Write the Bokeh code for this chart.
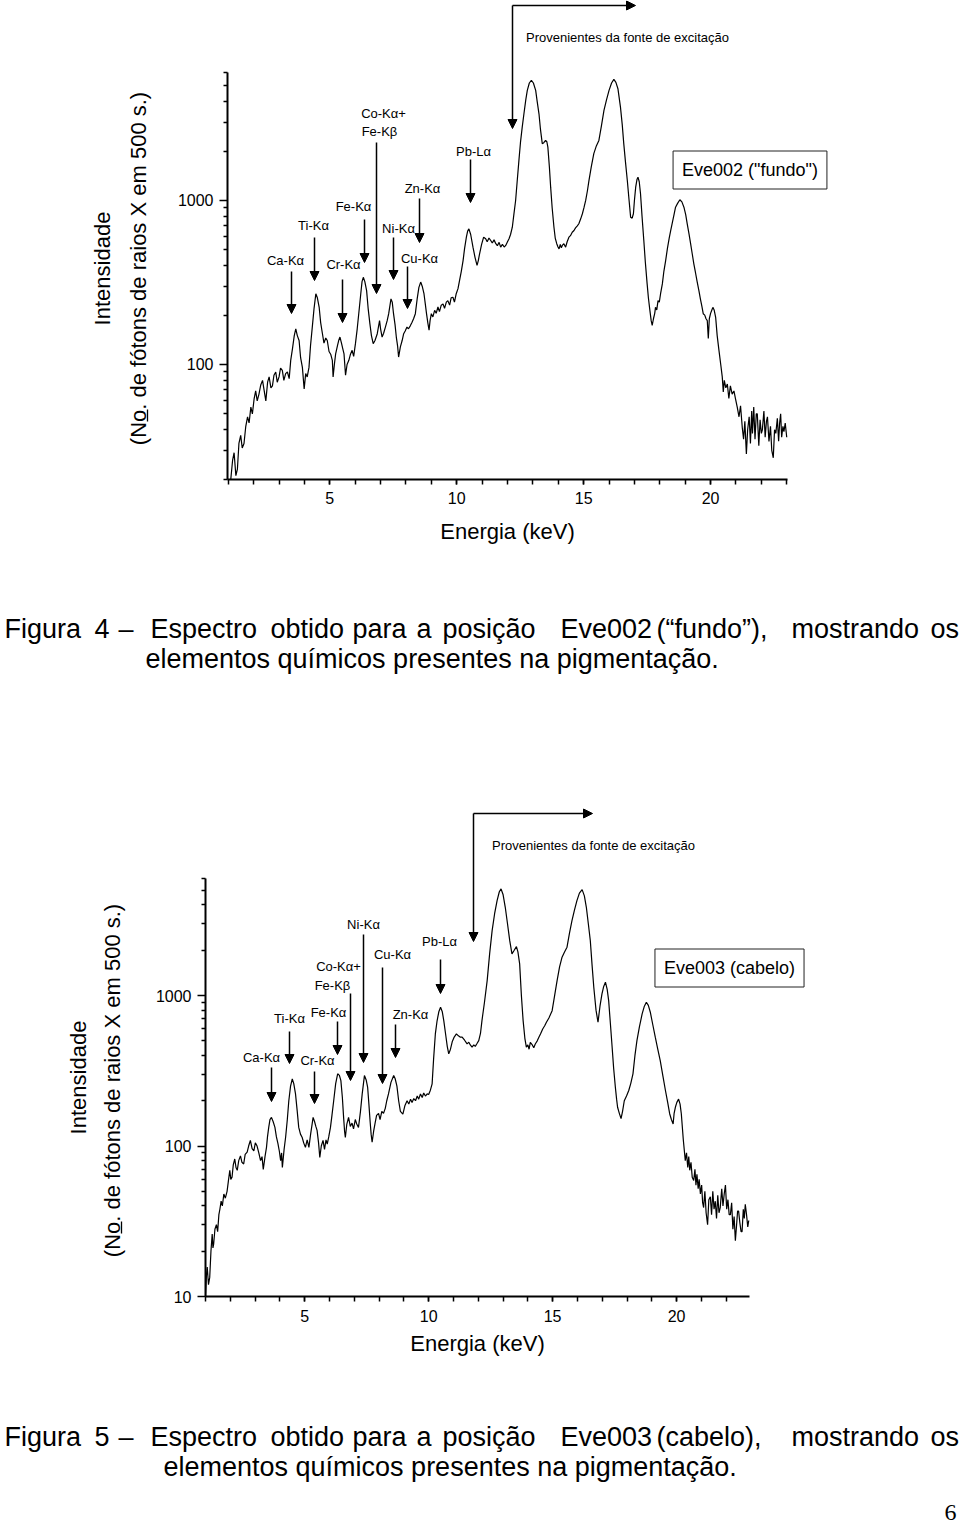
import math
from bokeh.plotting import figure
from bokeh.layouts import column
from bokeh.models import (FixedTicker, NumeralTickFormatter, Label, Arrow,
                          NormalHead, Range1d, LinearAxis, LogAxis, LogScale)
from bokeh.embed import file_html
from bokeh.resources import INLINE

# ---------------- data ----------------
energy_fundo = [
    1.10, 1.17, 1.23, 1.30, 1.36, 1.42, 1.49, 1.55, 1.62, 1.69, 1.76, 1.82, 1.89, 1.95, 2.02, 2.08,
    2.14, 2.21, 2.28, 2.35, 2.41, 2.48, 2.55, 2.61, 2.68, 2.74, 2.80, 2.87, 2.93, 3.00, 3.06, 3.13,
    3.19, 3.26, 3.33, 3.40, 3.46, 3.53, 3.60, 3.66, 3.72, 3.79, 3.85, 3.92, 3.99, 4.05, 4.11, 4.18,
    4.24, 4.31, 4.38, 4.45, 4.51, 4.58, 4.64, 4.71, 4.77, 4.84, 4.90, 4.97, 5.04, 5.10, 5.13, 5.18,
    5.23, 5.30, 5.35, 5.40, 5.46, 5.51, 5.56, 5.62, 5.68, 5.75, 5.81, 5.88, 5.94, 6.01, 6.08, 6.14,
    6.22, 6.27, 6.32, 6.38, 6.45, 6.51, 6.58, 6.64, 6.71, 6.78, 6.87, 6.96, 7.00, 7.06, 7.12, 7.19,
    7.26, 7.32, 7.41, 7.46, 7.51, 7.57, 7.62, 7.67, 7.71, 7.78, 7.85, 7.91, 7.97, 8.04, 8.10, 8.17,
    8.24, 8.30, 8.37, 8.44, 8.51, 8.58, 8.64, 8.71, 8.76, 8.81, 8.86, 8.91, 8.95, 9.00, 9.06, 9.13,
    9.19, 9.26, 9.32, 9.39, 9.46, 9.52, 9.59, 9.65, 9.72, 9.78, 9.85, 9.91, 9.98, 10.05, 10.11, 10.18,
    10.25, 10.31, 10.38, 10.43, 10.48, 10.55, 10.64, 10.72, 10.80, 10.85, 10.90, 10.98, 11.06, 11.14,
    11.20, 11.27, 11.34, 11.40, 11.47, 11.54, 11.60, 11.67, 11.73, 11.80, 11.87, 11.93, 12.00, 12.06,
    12.12, 12.19, 12.25, 12.32, 12.38, 12.45, 12.51, 12.58, 12.65, 12.72, 12.78, 12.86, 12.94, 13.02,
    13.11, 13.17, 13.24, 13.30, 13.37, 13.43, 13.50, 13.55, 13.59, 13.65, 13.70, 13.76, 13.83, 13.88,
    13.94, 13.99, 14.03, 14.08, 14.12, 14.16, 14.22, 14.29, 14.35, 14.42, 14.48, 14.55, 14.62, 14.68,
    14.75, 14.81, 14.88, 14.95, 15.01, 15.08, 15.15, 15.21, 15.30, 15.40, 15.50, 15.60, 15.70, 15.80,
    15.90, 16.00, 16.10, 16.19, 16.27, 16.35, 16.45, 16.52, 16.58, 16.65, 16.72, 16.79, 16.85, 16.91,
    16.96, 17.00, 17.05, 17.10, 17.14, 17.19, 17.24, 17.30, 17.37, 17.43, 17.50, 17.55, 17.61, 17.66,
    17.70, 17.75, 17.80, 17.83, 17.88, 17.93, 17.98, 18.03, 18.10, 18.16, 18.23, 18.30, 18.37, 18.43,
    18.50, 18.56, 18.62, 18.70, 18.79, 18.87, 18.95, 19.02, 19.08, 19.15, 19.21, 19.28, 19.34, 19.41,
    19.47, 19.54, 19.60, 19.66, 19.71, 19.77, 19.82, 19.87, 19.91, 19.95, 20.00, 20.05, 20.09, 20.14,
    20.20, 20.26, 20.33, 20.40, 20.46, 20.50, 20.54, 20.60, 20.66, 20.72, 20.78, 20.85, 20.92, 20.98,
    21.05, 21.12, 21.18, 21.25, 21.30, 21.35, 21.41, 21.46, 21.52, 21.57, 21.62, 21.65, 21.70, 21.75,
    21.80, 21.84, 21.90, 21.95, 22.00, 22.04, 22.10, 22.15, 22.20, 22.24, 22.30, 22.36, 22.41, 22.47,
    22.52, 22.57, 22.63, 22.68, 22.72, 22.76, 22.80, 22.85, 22.89, 22.94, 23.00]
counts_fundo = [
    20, 26, 29, 21, 23, 33, 37, 31, 33, 42, 48, 44, 55, 50, 62, 69,
    60, 66, 75, 80, 70, 60, 78, 84, 72, 74, 86, 90, 78, 84, 95, 92,
    80, 88, 90, 82, 106, 125, 150, 165, 150, 140, 110, 96, 71, 88, 84, 96,
    130, 169, 220, 270, 255, 224, 180, 154, 135, 145, 140, 120, 115, 106, 84, 100,
    116, 130, 140, 147, 135, 125, 116, 86, 100, 106, 115, 122, 112, 134, 165, 204,
    270, 320, 340, 320, 282, 220, 177, 150, 134, 140, 154, 185, 165, 147, 155, 169,
    185, 204, 251, 240, 204, 175, 147, 130, 111, 128, 140, 154, 160, 169, 165, 172,
    181, 190, 204, 250, 295, 318, 300, 270, 235, 204, 180, 162, 185, 204, 195, 214,
    205, 224, 210, 230, 234, 220, 240, 245, 230, 255, 257, 240, 270, 290, 325, 370,
    430, 510, 597, 650, 671, 620, 519, 450, 402, 430, 473, 540, 597, 584,
    560, 590, 570, 550, 575, 545, 530, 555, 519, 540, 520, 532, 560, 584,
    620, 687, 820, 1000, 1300, 1754, 2250, 2800, 3400, 4100, 4690, 5200, 5400, 5200,
    4690, 4000, 3375, 2700, 2220, 2250, 2323, 2280, 2115, 1600, 1205, 900, 687, 590,
    545, 520, 507, 540, 515, 532, 545, 519, 560, 597, 610, 640, 656, 680,
    700, 721, 770, 830, 900, 1000, 1150, 1324, 1600, 1928, 2150, 2323, 2850, 3540,
    4100, 4690, 5200, 5470, 5250, 4800, 3707, 2900, 2220, 1700, 1324, 1000, 791, 780,
    830, 1000, 1205, 1340, 1387, 1300, 1099, 800, 570, 420, 311, 255, 213, 185,
    173, 190, 205, 223, 215, 245, 240, 270, 310, 370, 430, 510, 590, 656,
    740, 820, 910, 960, 1010, 980, 910, 820, 720, 626, 550, 470, 411, 360,
    320, 282, 250, 225, 204, 200, 190, 185, 144, 190, 205, 215, 223, 215,
    194, 150, 122, 100, 84, 68, 80, 72, 76, 62, 74, 66, 69, 62,
    55, 48, 56, 41, 35, 45, 28.5, 40, 48, 33, 52, 38, 55, 35,
    50, 50, 32, 46, 38, 40, 52, 36, 45, 48, 34, 42, 30, 27,
    40, 38, 47, 34, 44, 50, 36, 42, 39, 44, 36]

energy_cabelo = [
    1.00, 1.04, 1.07, 1.12, 1.17, 1.22, 1.27, 1.30, 1.33, 1.38, 1.44, 1.49, 1.54, 1.58, 1.63, 1.68,
    1.74, 1.80, 1.87, 1.92, 1.98, 2.02, 2.07, 2.12, 2.18, 2.23, 2.28, 2.34, 2.41, 2.47, 2.54, 2.60,
    2.68, 2.74, 2.81, 2.88, 2.95, 3.01, 3.08, 3.15, 3.22, 3.28, 3.33, 3.40, 3.46, 3.50, 3.55, 3.60,
    3.66, 3.73, 3.80, 3.86, 3.92, 3.98, 4.03, 4.07, 4.10, 4.17, 4.23, 4.30, 4.36, 4.43, 4.50, 4.56,
    4.63, 4.70, 4.76, 4.83, 4.90, 4.96, 5.03, 5.10, 5.17, 5.24, 5.30, 5.34, 5.40, 5.45, 5.50, 5.56,
    5.61, 5.67, 5.74, 5.80, 5.86, 5.91, 5.97, 6.04, 6.10, 6.17, 6.25, 6.33, 6.40, 6.46, 6.52, 6.57,
    6.61, 6.64, 6.70, 6.77, 6.84, 6.91, 6.97, 7.04, 7.10, 7.17, 7.25, 7.32, 7.41, 7.48, 7.54, 7.59,
    7.64, 7.68, 7.72, 7.78, 7.84, 7.90, 7.98, 8.04, 8.11, 8.18, 8.25, 8.31, 8.38, 8.48, 8.59, 8.65,
    8.72, 8.79, 8.86, 8.96, 9.04, 9.13, 9.20, 9.27, 9.33, 9.40, 9.47, 9.54, 9.60, 9.67, 9.74, 9.80,
    9.87, 9.94, 10.00, 10.07, 10.14, 10.20, 10.27, 10.34, 10.41, 10.48, 10.55, 10.61, 10.68, 10.75,
    10.81, 10.88, 10.95, 11.03, 11.12, 11.20, 11.28, 11.35, 11.45, 11.55, 11.62, 11.68, 11.75, 11.82,
    11.88, 11.95, 12.02, 12.09, 12.15, 12.25, 12.36, 12.46, 12.56, 12.66, 12.76, 12.85, 12.92, 13.00,
    13.09, 13.18, 13.27, 13.36, 13.45, 13.54, 13.60, 13.67, 13.74, 13.81, 13.88, 13.94, 14.00, 14.05,
    14.10, 14.18, 14.24, 14.30, 14.38, 14.45, 14.51, 14.60, 14.68, 14.75, 14.85, 14.98, 15.08, 15.18,
    15.28, 15.38, 15.48, 15.58, 15.68, 15.78, 15.88, 15.98, 16.08, 16.19, 16.28, 16.36, 16.44, 16.52,
    16.59, 16.66, 16.75, 16.83, 16.91, 16.99, 17.06, 17.13, 17.20, 17.26, 17.33, 17.40, 17.46, 17.53,
    17.58, 17.62, 17.69, 17.76, 17.82, 17.89, 17.98, 18.07, 18.15, 18.24, 18.32, 18.40, 18.50, 18.61,
    18.70, 18.78, 18.86, 18.94, 19.04, 19.14, 19.24, 19.34, 19.45, 19.55, 19.64, 19.72, 19.79, 19.86,
    19.90, 19.95, 20.01, 20.08, 20.14, 20.19, 20.27, 20.35, 20.40, 20.45, 20.49, 20.53, 20.58, 20.63,
    20.69, 20.74, 20.78, 20.82, 20.87, 20.91, 20.96, 21.01, 21.05, 21.09, 21.14, 21.19, 21.25, 21.30,
    21.36, 21.41, 21.46, 21.51, 21.56, 21.61, 21.66, 21.71, 21.76, 21.82, 21.87, 21.92, 21.97, 22.02,
    22.07, 22.12, 22.17, 22.22, 22.27, 22.32, 22.37, 22.42, 22.46, 22.50, 22.55, 22.60, 22.64, 22.69,
    22.73, 22.77, 22.82, 22.87, 22.91]
counts_cabelo = [
    10, 14, 15.7, 12, 13.4, 20, 26, 21, 22.4, 28, 30, 27, 35, 38, 43, 40,
    48, 45, 50, 58, 69, 60, 62, 75, 82, 72, 69, 80, 86, 78, 76, 88,
    91, 100, 109, 96, 93, 105, 100, 90, 80, 85, 70, 85, 98, 115, 133, 150,
    155, 145, 133, 115, 104, 92, 80, 90, 72, 95, 114, 150, 200, 250, 279, 260,
    222, 170, 133, 120, 114, 105, 98, 110, 98, 120, 140, 155, 145, 135, 127, 105,
    84, 100, 109, 95, 110, 103, 115, 133, 160, 200, 260, 302, 295, 272, 210, 155,
    125, 114, 140, 155, 135, 142, 130, 150, 140, 133, 170, 222, 294, 275, 245, 190,
    145, 120, 106, 125, 142, 160, 165, 150, 170, 165, 178, 200, 222, 265, 294, 280,
    250, 200, 170, 163, 185, 200, 190, 205, 195, 207, 200, 215, 205, 222, 210, 225,
    215, 222, 220, 235, 259, 380, 556, 680, 780, 836, 780, 682, 560, 460,
    410, 440, 493, 530, 556, 540, 529, 530, 505, 477, 490, 470, 454, 470,
    460, 480, 502, 560, 682, 900, 1258, 1900, 2704, 3500, 4276, 4900, 5115, 4700,
    3862, 3000, 2316, 1892, 2000, 2117, 1950, 1625, 1000, 682, 520, 454, 470, 440,
    488, 470, 450, 477, 500, 530, 556, 600, 630, 665, 710, 794, 1000, 1258,
    1550, 1800, 1950, 2096, 2600, 3148, 3700, 4276, 4800, 5060, 4600, 3862, 3000, 2316,
    1600, 1135, 800, 665, 850, 1026, 1150, 1227, 1100, 926, 650, 454, 330, 246,
    205, 181, 165, 152, 170, 200, 215, 234, 260, 302, 400, 502, 620, 755,
    850, 903, 860, 775, 640, 529, 440, 370, 290, 234, 195, 164, 150, 140,
    165, 181, 195, 205, 190, 164, 110, 80, 90, 72, 85, 69, 78, 62,
    59, 70, 55, 65, 52, 60, 48, 55, 42, 39, 50, 36, 30, 44,
    46, 35, 50, 38, 43, 33, 47, 36, 39, 52, 40, 48, 55, 38,
    44, 35, 35, 42, 28, 34, 23.5, 30, 37, 37, 31, 27, 27, 38,
    33, 41, 35, 29, 32]

x_major_ticks = [5, 10, 15, 20]
x_minor_ticks = list(range(1, 24))
y_major_ticks = [10, 100, 1000]
y_minor_ticks = [m * 10 ** k for k in (1, 2, 3) for m in range(2, 10)]
peak_names_fundo = ["Co-K\u03b1+", "Fe-K\u03b2", "Pb-L\u03b1", "Zn-K\u03b1", "Fe-K\u03b1",
                    "Ti-K\u03b1", "Ni-K\u03b1", "Ca-K\u03b1", "Cr-K\u03b1", "Cu-K\u03b1"]
peak_names_cabelo = ["Ni-K\u03b1", "Pb-L\u03b1", "Cu-K\u03b1", "Co-K\u03b1+", "Fe-K\u03b2",
                     "Fe-K\u03b1", "Ti-K\u03b1", "Zn-K\u03b1", "Ca-K\u03b1", "Cr-K\u03b1"]

FONT = "Liberation Sans"
CAP = 27


def make_conv(L, R, T, B, xlo, xhi, ylo, yhi):
    lylo, lyhi = math.log10(ylo), math.log10(yhi)

    def conv(X, Y):
        x = xlo + (X - L) * (xhi - xlo) / (R - L)
        ly = lylo + (B - Y) * (lyhi - lylo) / (B - T)
        return x, 10 ** ly
    return conv


def within(ticks, lo, hi):
    return [t for t in ticks if lo - 1e-9 <= t <= hi + 1e-9]


def make_panel(height, offset, L, R, T, B, xr, yr, xlab_standoff):
    conv = make_conv(L, R, T, B, xr[0], xr[1], yr[0], yr[1])
    x_left, y_bot = conv(0, offset + height)
    x_right, y_top = conv(960, offset)
    p = figure(width=960, height=height, x_range=Range1d(x_left, x_right),
               y_range=Range1d(y_bot, y_top), y_axis_type="log",
               x_axis_location=None, y_axis_location=None,
               output_backend="svg", toolbar_location=None,
               min_border=0, min_border_left=0, min_border_right=0,
               min_border_top=0, min_border_bottom=0)
    p.y_scale = LogScale()
    p.outline_line_color = None
    p.background_fill_color = "white"
    p.border_fill_color = "white"
    p.grid.visible = False

    ax = LinearAxis(fixed_location=yr[0], bounds=(xr[0], xr[1]),
                    ticker=FixedTicker(ticks=within(x_major_ticks, *xr),
                                       minor_ticks=within(x_minor_ticks, *xr)))
    ax.axis_line_width = 2
    ax.major_tick_in = 0
    ax.major_tick_out = 5
    ax.minor_tick_in = 0
    ax.minor_tick_out = 5
    ax.major_tick_line_width = 1.5
    ax.minor_tick_line_width = 1.5
    ax.major_label_text_font = FONT
    ax.major_label_text_font_size = "16px"
    ax.major_label_text_color = "black"
    ax.major_label_standoff = xlab_standoff
    p.add_layout(ax, "below")

    ay = LogAxis(fixed_location=xr[0], bounds=(yr[0], yr[1]),
                 ticker=FixedTicker(ticks=within(y_major_ticks, *yr),
                                    minor_ticks=within(y_minor_ticks, *yr)),
                 formatter=NumeralTickFormatter(format="0"))
    ay.axis_line_width = 2
    ay.major_tick_in = 0
    ay.major_tick_out = 8
    ay.minor_tick_in = 0
    ay.minor_tick_out = 4
    ay.major_tick_line_width = 1.5
    ay.minor_tick_line_width = 1.5
    ay.major_label_text_font = FONT
    ay.major_label_text_font_size = "16px"
    ay.major_label_text_color = "black"
    ay.major_label_standoff = 6
    p.add_layout(ay, "left")
    return p, conv


def add_text(p, conv, X, Y, text, size, align="center", angle=0.0, font=FONT, **kw):
    x, y = conv(X, Y)
    p.add_layout(Label(x=x, y=y, text=text, text_font=font, text_font_size=f"{size}px",
                       text_align=align, text_baseline="middle", angle=angle,
                       text_color="black", **kw))


def add_arrow(p, conv, X0, Y0, X1, Y1, head=True, width=1.5):
    x0, y0 = conv(X0, Y0)
    x1, y1 = conv(X1, Y1)
    end = NormalHead(size=9, fill_color="black", line_color="black", line_width=1) if head else None
    p.add_layout(Arrow(x_start=x0, y_start=y0, x_end=x1, y_end=y1, line_width=width,
                       line_color="black", end=end))


# ---------------- panel 1: Eve002 ("fundo") ----------------
p1, c1 = make_panel(760, 0, 227, 787, 72, 479, (0.97, 23.03), (19.9, 6026), 7)
p1.line(energy_fundo, counts_fundo, line_color="black", line_width=1.2)

pos1 = [(383, 113), (379, 131), (473, 151), (422, 188), (353, 206),
        (313, 225), (398, 228), (285, 260), (343, 264), (419, 258)]
for name, (X, Y) in zip(peak_names_fundo, pos1):
    add_text(p1, c1, X, Y, name, 13)
for X, Y0, Y1 in [(376, 142, 293), (470, 159, 202), (419, 198, 242), (364, 219, 262),
                  (314, 237, 280), (393, 237, 279), (291, 271, 313), (342, 279, 322),
                  (407, 266, 308)]:
    add_arrow(p1, c1, X, Y0, X, Y1)
add_arrow(p1, c1, 512, 5, 512, 128)
add_arrow(p1, c1, 512, 5, 635, 5)
add_text(p1, c1, 627, 37, "Provenientes da fonte de excita\u00e7\u00e3o", 13)
add_text(p1, c1, 749.5, 169.5, 'Eve002 ("fundo")', 18, border_line_color="#222222",
         border_line_width=1, background_fill_color="white", padding=9)
add_text(p1, c1, 102, 268, "Intensidade", 22, angle=math.pi / 2)
add_text(p1, c1, 138, 268, "(No. de f\u00f3tons de raios X em 500 s.)", 22, angle=math.pi / 2)
add_arrow(p1, c1, 147, 421, 147, 409, head=False, width=1.3)
add_text(p1, c1, 507, 531, "Energia (keV)", 22)

words1 = [("Figura", 4), ("4", 94), ("\u2013", 118), ("Espectro", 150), ("obtido", 270),
          ("para", 352), ("a", 416), ("posi\u00e7\u00e3o", 442), ("Eve002", 560),
          ("(\u201cfundo\u201d),", 656), ("mostrando", 791), ("os", 930)]
for w, X in words1:
    add_text(p1, c1, X, 628, w, CAP, align="left")
add_text(p1, c1, 145, 658, "elementos qu\u00edmicos presentes na pigmenta\u00e7\u00e3o.", CAP,
         align="left")

# ---------------- panel 2: Eve003 (cabelo) ----------------
p2, c2 = make_panel(766, 760, 205, 749, 878, 1296, (1.0, 22.94), (10, 6000), 8)
p2.line(energy_cabelo, counts_cabelo, line_color="black", line_width=1.2)

pos2 = [(363, 924), (439, 941), (392, 954), (338, 966), (332, 985),
        (328, 1012), (289, 1018), (410, 1014), (261, 1057), (317, 1060)]
for name, (X, Y) in zip(peak_names_cabelo, pos2):
    add_text(p2, c2, X, Y, name, 13)
for X, Y0, Y1 in [(363, 934, 1062), (440, 959, 993), (382, 967, 1083), (350, 993, 1080),
                  (337, 1021, 1054), (289, 1031, 1063), (395, 1024, 1057), (271, 1067, 1101),
                  (314, 1071, 1103)]:
    add_arrow(p2, c2, X, Y0, X, Y1)
add_arrow(p2, c2, 473, 813, 473, 941)
add_arrow(p2, c2, 473, 813, 592, 813)
add_text(p2, c2, 593, 845, "Provenientes da fonte de excita\u00e7\u00e3o", 13)
add_text(p2, c2, 729, 967.5, "Eve003 (cabelo)", 18, border_line_color="#222222",
         border_line_width=1, background_fill_color="white", padding=9)
add_text(p2, c2, 78, 1077, "Intensidade", 22, angle=math.pi / 2)
add_text(p2, c2, 112, 1080, "(No. de f\u00f3tons de raios X em 500 s.)", 22, angle=math.pi / 2)
add_arrow(p2, c2, 121, 1233, 121, 1221, head=False, width=1.3)
add_text(p2, c2, 477, 1343, "Energia (keV)", 22)

words2 = [("Figura", 4), ("5", 94), ("\u2013", 118), ("Espectro", 150), ("obtido", 270),
          ("para", 352), ("a", 416), ("posi\u00e7\u00e3o", 442), ("Eve003", 560),
          ("(cabelo),", 656), ("mostrando", 791), ("os", 930)]
for w, X in words2:
    add_text(p2, c2, X, 1436, w, CAP, align="left")
add_text(p2, c2, 163, 1466, "elementos qu\u00edmicos presentes na pigmenta\u00e7\u00e3o.", CAP,
         align="left")
add_text(p2, c2, 950, 1512, "6", 24, font="Liberation Serif")

layout = column(p1, p2)
open("out.html", "w").write(file_html(layout, INLINE))
